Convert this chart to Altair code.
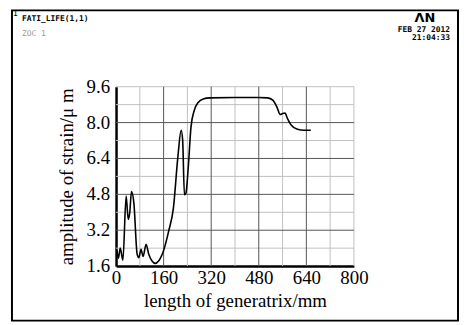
import altair as alt
import pandas as pd

# curve data
xs = [3, 8, 14, 23, 34, 41, 46, 52, 60, 71, 77, 84, 91, 101, 110, 121, 132, 143, 160, 177,
      193, 208, 219, 224, 230, 235, 243, 252, 263, 277, 293, 316,
      400, 477, 510, 527, 541, 552, 560, 568, 577, 588, 610, 632, 655]
ys = [2.3, 1.95, 2.4, 1.86, 4.72, 3.68, 3.97, 4.93, 4.41, 2.13, 1.98, 2.35, 2.03, 2.57, 2.13,
      1.83, 1.72, 1.83, 2.3, 3.16, 4.2, 6.48, 7.66, 7.21, 4.78, 4.85, 6.03, 7.8, 8.54, 8.91,
      9.05, 9.1,
      9.12, 9.12, 9.1, 9.0, 8.69, 8.36, 8.4, 8.42, 8.17, 7.9, 7.7, 7.66, 7.66]

x_ticks = [0, 160, 320, 480, 640, 800]
y_ticks = [1.6, 3.2, 4.8, 6.4, 8.0, 9.6]
y_tick_labels = ["1.6", "3.2", "4.8", "6.4", "8.0", "9.6"]
x_grid_major = [160, 320, 480, 640]
x_grid_minor = [80, 240, 400, 560, 720, 800]
y_grid_major = [3.2, 4.8, 6.4, 8.0]
y_grid_minor = [2.4, 4.0, 5.6, 7.2, 8.8, 9.6]

W, H = 240, 181
serif = "Liberation Serif"

xs_scale = alt.Scale(domain=[0, 800], nice=False, zero=False)
ys_scale = alt.Scale(domain=[1.6, 9.6], nice=False, zero=False)

curve = pd.DataFrame({"x": xs, "y": ys})

frame = alt.Chart(pd.DataFrame({"a": [0]})).mark_rect(
    fill=None, stroke="black", strokeWidth=2
).encode(x=alt.value(-105), x2=alt.value(345), y=alt.value(-77), y2=alt.value(236))

def vgrid(vals, color, width):
    return alt.Chart(pd.DataFrame({"x": vals})).mark_rule(color=color, strokeWidth=width).encode(
        x=alt.X("x:Q", scale=xs_scale))

def hgrid(vals, color, width):
    return alt.Chart(pd.DataFrame({"y": vals})).mark_rule(color=color, strokeWidth=width).encode(
        y=alt.Y("y:Q", scale=ys_scale))

def curve_layer(opacity, with_axis):
    xkw = {}
    ykw = {}
    if with_axis:
        xkw["axis"] = alt.Axis(
            values=x_ticks, title="length of generatrix/mm", grid=False, ticks=False,
            domainColor="black", domainWidth=2.5, labelFont=serif, labelFontSize=19,
            labelColor="black", labelPadding=3, titleFont=serif, titleFontSize=19,
            titleFontWeight="normal", titleColor="black", titlePadding=4, labelFlush=False,
            labelOverlap=False)
        ykw["axis"] = alt.Axis(
            values=y_ticks, labels=False, title="amplitude of strain/μ m", grid=False, ticks=False,
            domainColor="black", domainWidth=2.5,
            titleFont=serif, titleFontSize=19,
            titleFontWeight="normal", titleColor="black", titlePadding=40)
    return alt.Chart(curve).mark_line(
        color="black", strokeWidth=1.6, interpolate="monotone", opacity=opacity
    ).encode(
        x=alt.X("x:Q", scale=xs_scale, **xkw),
        y=alt.Y("y:Q", scale=ys_scale, **ykw),
    )

ylabels = alt.Chart(pd.DataFrame({"y": y_ticks, "t": y_tick_labels})).mark_text(
    font=serif, fontSize=19, color="black", align="right", baseline="middle"
).encode(y=alt.Y("y:Q", scale=ys_scale), x=alt.value(-6), text="t:N")

def txt(s, x, y, size, weight="normal", color="black", align="left", font="DejaVu Sans Mono"):
    return alt.Chart(pd.DataFrame({"t": [s]})).mark_text(
        fontSize=size, fontWeight=weight, color=color, align=align, baseline="middle", font=font
    ).encode(text="t:N", x=alt.value(x), y=alt.value(y))

texts = [
    txt("1", -104, -73, 8),
    txt("FATI_LIFE(1,1)", -95, -68, 8, "bold"),
    txt("ZOC  1", -95, -53, 8, "normal", "#999999"),
    txt("ΛN", 322, -69, 13, "bold", "black", "right", "DejaVu Sans"),
    txt("FEB 27 2012", 337, -57, 8, "bold", "black", "right"),
    txt("21:04:33", 337, -49, 8, "bold", "black", "right"),
]

chart = alt.layer(
    curve_layer(0, True),
    frame,
    vgrid(x_grid_minor, "#c0c0c0", 1), hgrid(y_grid_minor, "#c0c0c0", 1),
    vgrid(x_grid_major, "#555555", 1), hgrid(y_grid_major, "#555555", 1),
    curve_layer(1, False), ylabels, *texts
).properties(
    width=W, height=H,
    autosize=alt.AutoSizeParams(type="none"),
    padding={"left": 109, "top": 78, "right": 106, "bottom": 56},
).configure_view(stroke=None)

chart.save("out.html", embed_options={"renderer": "svg", "actions": False})
